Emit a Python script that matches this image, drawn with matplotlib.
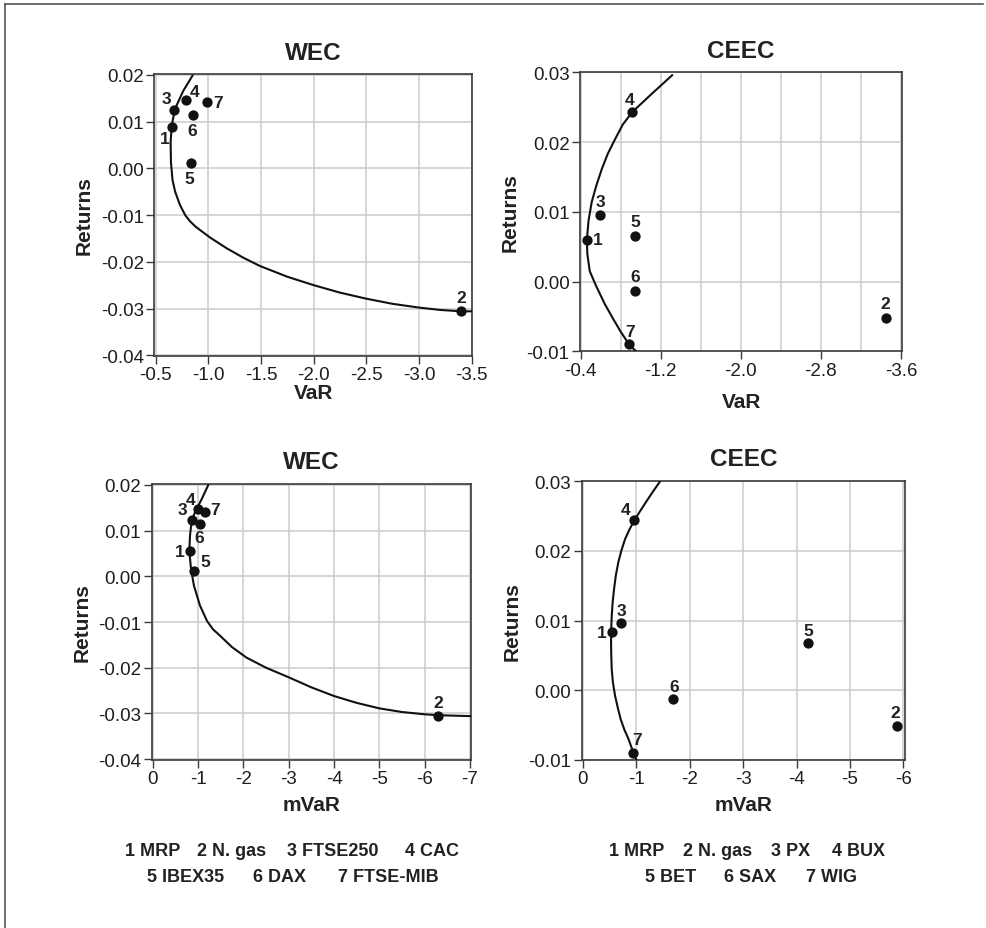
import matplotlib
matplotlib.use("Agg")
import matplotlib.pyplot as plt
from matplotlib import font_manager
from matplotlib.lines import Line2D

# ---- data ----
labels = ["1", "2", "3", "4", "5", "6", "7"]

# WEC, VaR
wec_var_x = [-0.658, -3.399, -0.677, -0.785, -0.835, -0.851, -0.984]
wec_var_y = [0.0089, -0.0306, 0.0125, 0.0146, 0.0011, 0.0114, 0.0141]
wec_var_cx = [-0.851, -0.762, -0.683, -0.652, -0.642, -0.645, -0.660, -0.685,
              -0.730, -0.780, -0.825, -0.880, -1.016, -1.174, -1.330, -1.490,
              -1.750, -2.000, -2.250, -2.500, -2.750, -3.000, -3.200, -3.400,
              -3.510]
wec_var_cy = [0.0199, 0.0166, 0.0127, 0.0091, 0.0056, 0.0013, -0.0025, -0.0050,
              -0.0078, -0.0100, -0.0113, -0.0125, -0.0148, -0.0171, -0.0191,
              -0.0209, -0.0232, -0.0250, -0.0266, -0.0279, -0.0290, -0.0298,
              -0.0303, -0.0306, -0.0306]

# CEEC, VaR
ceec_var_x = [-0.460, -3.447, -0.588, -0.916, -0.946, -0.946, -0.880]
ceec_var_y = [0.0060, -0.0052, 0.0095, 0.0243, 0.0066, -0.0013, -0.0090]
ceec_var_cx = [-1.315, -1.109, -0.915, -0.820, -0.743, -0.670, -0.610, -0.555,
               -0.510, -0.478, -0.462, -0.466, -0.490, -0.553, -0.640, -0.726,
               -0.800, -0.883, -0.960]
ceec_var_cy = [0.0296, 0.0269, 0.0243, 0.0225, 0.0204, 0.0183, 0.0161, 0.0137,
               0.0114, 0.0087, 0.0060, 0.0040, 0.0015, -0.0006, -0.0032,
               -0.0054, -0.0072, -0.0090, -0.0101]

# WEC, mVaR
wec_mvar_x = [-0.815, -6.30, -0.868, -1.007, -0.918, -1.050, -1.154]
wec_mvar_y = [0.0055, -0.0305, 0.0124, 0.0147, 0.0012, 0.0115, 0.0141]
wec_mvar_cx = [-1.227, -1.081, -0.933, -0.860, -0.823, -0.808, -0.845, -0.911,
               -1.043, -1.200, -1.330, -1.485, -1.750, -2.070, -2.500, -3.000,
               -3.500, -4.000, -4.500, -5.000, -5.500, -6.000, -6.300, -7.020]
wec_mvar_cy = [0.0200, 0.0169, 0.0140, 0.0122, 0.0089, 0.0056, 0.0016, -0.0021,
               -0.0064, -0.0098, -0.0116, -0.0130, -0.0155, -0.0178, -0.0200,
               -0.0221, -0.0243, -0.0262, -0.0277, -0.0289, -0.0297, -0.0302,
               -0.0304, -0.0306]

# CEEC, mVaR
ceec_mvar_x = [-0.543, -5.889, -0.724, -0.967, -4.223, -1.684, -0.948]
ceec_mvar_y = [0.0084, -0.0051, 0.0096, 0.0244, 0.0067, -0.0013, -0.0090]
ceec_mvar_cx = [-1.447, -1.320, -1.198, -1.080, -0.967, -0.875, -0.792, -0.725,
                -0.667, -0.620, -0.586, -0.560, -0.543, -0.533, -0.530, -0.534,
                -0.543, -0.565, -0.605, -0.655, -0.711, -0.780, -0.855, -0.948,
                -1.023]
ceec_mvar_cy = [0.0300, 0.0286, 0.0272, 0.0258, 0.0244, 0.0231, 0.0217, 0.0201,
                0.0184, 0.0165, 0.0145, 0.0126, 0.0107, 0.0088, 0.0069, 0.0050,
                0.0030, 0.0011, -0.0008, -0.0025, -0.0042, -0.0057, -0.0070,
                -0.0090, -0.0104]

# tick values and labels
wec_var_xticks = [-0.5, -1.0, -1.5, -2.0, -2.5, -3.0, -3.5]
wec_var_xlabels = ["-0.5", "-1.0", "-1.5", "-2.0", "-2.5", "-3.0", "-3.5"]
ceec_var_xticks = [-0.4, -1.2, -2.0, -2.8, -3.6]
ceec_var_xlabels = ["-0.4", "-1.2", "-2.0", "-2.8", "-3.6"]
ceec_var_xgrid = [-0.8, -1.6, -2.4, -3.2]
wec_mvar_xticks = [0, -1, -2, -3, -4, -5, -6, -7]
wec_mvar_xlabels = ["0", "-1", "-2", "-3", "-4", "-5", "-6", "-7"]
ceec_mvar_xticks = [0, -1, -2, -3, -4, -5, -6]
ceec_mvar_xlabels = ["0", "-1", "-2", "-3", "-4", "-5", "-6"]
wec_yticks = [0.02, 0.01, 0.00, -0.01, -0.02, -0.03, -0.04]
wec_ylabels = ["0.02", "0.01", "0.00", "-0.01", "-0.02", "-0.03", "-0.04"]
ceec_yticks = [0.03, 0.02, 0.01, 0.00, -0.01]
ceec_ylabels = ["0.03", "0.02", "0.01", "0.00", "-0.01"]

wec_names = [["1 MRP", "2 N. gas", "3 FTSE250", "4 CAC"],
             ["5 IBEX35", "6 DAX", "7 FTSE-MIB"]]
ceec_names = [["1 MRP", "2 N. gas", "3 PX", "4 BUX"],
              ["5 BET", "6 SAX", "7 WIG"]]

# ---- fonts ----
have = {f.name for f in font_manager.fontManager.ttflist}
SANS = "Liberation Sans" if "Liberation Sans" in have else "DejaVu Sans"
NARROW = "Liberation Sans Narrow" if "Liberation Sans Narrow" in have else SANS
plt.rcParams["font.family"] = [SANS, "DejaVu Sans"]

W, H = 987, 929
fig = plt.figure(figsize=(W / 100, H / 100), dpi=100)
fig.patch.set_facecolor("white")

# thin frame round the picture (top and left edges visible)
fig.add_artist(Line2D([5 / W, 983 / W], [1 - 5 / H, 1 - 5 / H], color="#555555",
                      lw=1.2, transform=fig.transFigure))
fig.add_artist(Line2D([5 / W, 5 / W], [1 - 5 / H, 0], color="#555555",
                      lw=1.2, transform=fig.transFigure))


def px_box(l, r, t, b):
    return [l / W, 1 - b / H, (r - l) / W, (b - t) / H]


def panel(box, title, xs, ys, cx, cy, xlim, ylim, xt, xtl, yt, ytl,
          xlab, offsets, xlab_px, extra_grid=None):
    ax = fig.add_axes(px_box(*box))
    ax.set_xlim(*xlim)
    ax.set_ylim(*ylim)
    ax.set_xticks(xt)
    ax.set_xticklabels(xtl)
    ax.set_yticks(yt)
    ax.set_yticklabels(ytl)
    if extra_grid is not None:
        ax.set_xticks(extra_grid, minor=True)
        ax.tick_params(axis="x", which="minor", length=0)
        ax.grid(True, which="minor", axis="x", color="#cccccc", lw=1.1)
    ax.grid(True, which="major", color="#cccccc", lw=1.1)
    ax.set_axisbelow(True)
    for s in ax.spines.values():
        s.set_color("#3a3a3a")
        s.set_linewidth(1.2)
    ax.tick_params(which="major", direction="out", length=5.5, width=1.0,
                   color="#3a3a3a", labelsize=13.5, labelcolor="#1e1e1e", pad=2)
    for t in ax.get_xticklabels() + ax.get_yticklabels():
        t.set_family([NARROW, SANS])

    ax.plot(cx, cy, color="#111111", lw=1.5, solid_joinstyle="round",
            solid_capstyle="round", zorder=3)
    ax.scatter(xs, ys, s=55, color="#111111", zorder=4, linewidths=0)
    for lab, x, y, (dx, dy) in zip(labels, xs, ys, offsets):
        ax.annotate(lab, (x, y), xytext=(dx, dy), textcoords="offset pixels",
                    ha="center", va="center", fontsize=12.5, fontweight="bold",
                    color="#222222", zorder=5)

    wpx = box[1] - box[0]
    hpx = box[3] - box[2]
    ax.text(0.5, 1 + 22 / hpx, title, transform=ax.transAxes, ha="center",
            va="center", fontsize=17.5, fontweight="bold", color="#222222")
    ax.set_xlabel(xlab, fontsize=15, fontweight="bold", color="#222222")
    ax.xaxis.set_label_coords(0.5, -xlab_px / hpx)
    ax.xaxis.label.set_va("center")
    ax.set_ylabel("Returns", fontsize=15, fontweight="bold", color="#222222")
    ax.yaxis.set_label_coords(-70 / wpx, 0.5)
    ax.yaxis.label.set_va("center")
    return ax


# label offsets in pixels (right, up) for points 1..7
off_wec_var = [(-8, -12), (0, 14), (-8, 11), (9, 9), (-2, -15), (0, -15), (11, 0)]
off_ceec_var = [(11, 0), (0, 14), (1, 14), (-3, 13), (0, 14), (0, 14), (1, 13)]
off_wec_mvar = [(-10, 0), (0, 13), (-10, 10), (-8, 10), (11, 9), (-1, -14), (10, 2)]
off_ceec_mvar = [(-10, -1), (-2, 13), (0, 13), (-9, 11), (0, 13), (1, 13), (4, 13)]

panel((154.3, 472.3, 75, 356.7), "WEC", wec_var_x, wec_var_y,
      wec_var_cx, wec_var_cy, (-0.487, -3.506), (-0.0401, 0.0202),
      wec_var_xticks, wec_var_xlabels, wec_yticks, wec_ylabels,
      "VaR", off_wec_var, 37)
panel((580.0, 902.3, 73.3, 352.3), "CEEC", ceec_var_x, ceec_var_y,
      ceec_var_cx, ceec_var_cy, (-0.393, -3.613), (-0.0100, 0.0300),
      ceec_var_xticks, ceec_var_xlabels, ceec_yticks, ceec_ylabels,
      "VaR", off_ceec_var, 50, extra_grid=ceec_var_xgrid)
panel((151.7, 470.7, 485, 761), "WEC", wec_mvar_x, wec_mvar_y,
      wec_mvar_cx, wec_mvar_cy, (0.022, -7.015), (-0.0402, 0.0202),
      wec_mvar_xticks, wec_mvar_xlabels, wec_yticks, wec_ylabels,
      "mVaR", off_wec_mvar, 45)
panel((581.7, 905.0, 481.7, 761), "CEEC", ceec_mvar_x, ceec_mvar_y,
      ceec_mvar_cx, ceec_mvar_cy, (0.019, -6.03), (-0.01005, 0.0301),
      ceec_mvar_xticks, ceec_mvar_xlabels, ceec_yticks, ceec_ylabels,
      "mVaR", off_ceec_mvar, 45)

# key lines under the lower panels (left pixel of each item)
wec_key_x = [[125, 197, 287, 405], [147, 253, 338]]
ceec_key_x = [[609, 683, 771, 832], [645, 724, 806]]
key_y = [852, 878]
for names, xs in ((wec_names, wec_key_x), (ceec_names, ceec_key_x)):
    for row, xrow, y in zip(names, xs, key_y):
        for name, x in zip(row, xrow):
            fig.text(x / W, 1 - y / H, name, ha="left", va="center",
                     fontsize=13, fontweight="bold", color="#222222")

fig.savefig("out.png", dpi=100, facecolor="white")
